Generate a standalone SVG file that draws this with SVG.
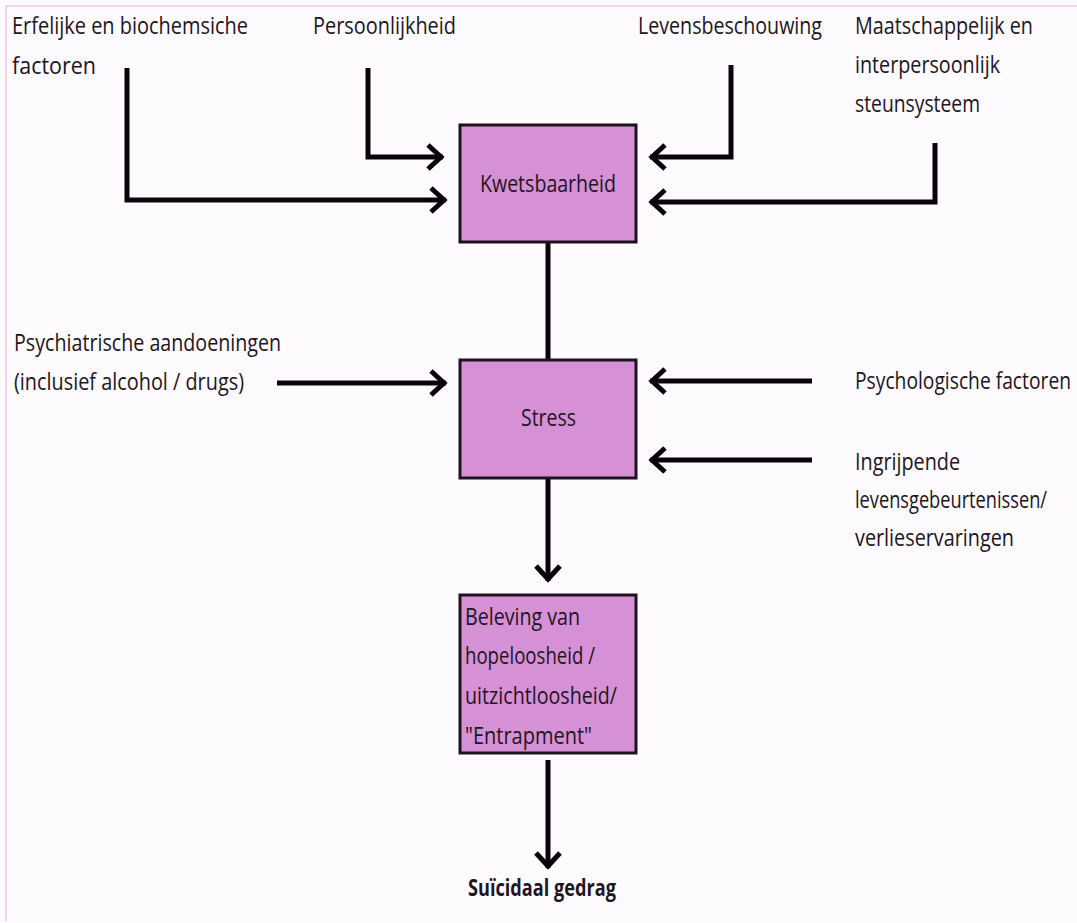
<svg xmlns="http://www.w3.org/2000/svg" width="1077" height="923" viewBox="0 0 1077 923">
<defs>
<style>
.lbl{font-family:"Open Sans","Liberation Sans",sans-serif;font-size:23px;fill:#221522;}
.bold{font-weight:bold;}
.box{fill:#d690d6;stroke:#1e121e;stroke-width:3;}
.con{fill:none;stroke:#0a050a;stroke-width:5;}
</style>
<marker id="arr" viewBox="-20 -15 25 30" refX="0" refY="0" markerWidth="25" markerHeight="30" markerUnits="userSpaceOnUse" orient="auto">
<path d="M-15,-12 L-2,0 L-15,12" fill="none" stroke="#0a050a" stroke-width="5"/>
</marker>
</defs>
<rect x="0" y="0" width="1077" height="923" fill="#fdfbfd"/>
<path d="M1077,6 H6 V921" fill="none" stroke="#ecc8ec" stroke-width="1.5"/>

<g id="connectors">
<path class="con" d="M127,68 V200 H446" marker-end="url(#arr)"/>
<path class="con" d="M368,68 V157 H443" marker-end="url(#arr)"/>
<path class="con" d="M731,65 V157 H650" marker-end="url(#arr)"/>
<path class="con" d="M935,143 V202 H650" marker-end="url(#arr)"/>
<path class="con" d="M548,242 V360"/>
<path class="con" d="M277,383 H446" marker-end="url(#arr)"/>
<path class="con" d="M812,381 H650" marker-end="url(#arr)"/>
<path class="con" d="M812,460 H650" marker-end="url(#arr)"/>
<path class="con" d="M548,479 V581" marker-end="url(#arr)"/>
<path class="con" d="M548,760 V868" marker-end="url(#arr)"/>
</g>

<g id="erfelijk">
<text class="lbl" x="12" y="34" textLength="236" lengthAdjust="spacingAndGlyphs">Erfelijke en biochemsiche</text>
<text class="lbl" x="12" y="74" textLength="84" lengthAdjust="spacingAndGlyphs">factoren</text>
</g>
<g id="persoonlijkheid">
<text class="lbl" x="313" y="34" textLength="143" lengthAdjust="spacingAndGlyphs">Persoonlijkheid</text>
</g>
<g id="levensbeschouwing">
<text class="lbl" x="638" y="34" textLength="184" lengthAdjust="spacingAndGlyphs">Levensbeschouwing</text>
</g>
<g id="maatschappelijk">
<text class="lbl" x="855" y="34" textLength="178" lengthAdjust="spacingAndGlyphs">Maatschappelijk en</text>
<text class="lbl" x="855" y="73" textLength="145" lengthAdjust="spacingAndGlyphs">interpersoonlijk</text>
<text class="lbl" x="855" y="112" textLength="125" lengthAdjust="spacingAndGlyphs">steunsysteem</text>
</g>
<g id="kwetsbaarheid">
<rect class="box" x="460" y="125" width="176" height="117"/>
<text class="lbl" x="480" y="192" textLength="136" lengthAdjust="spacingAndGlyphs">Kwetsbaarheid</text>
</g>
<g id="psychiatrisch">
<text class="lbl" x="14" y="351" textLength="267" lengthAdjust="spacingAndGlyphs">Psychiatrische aandoeningen</text>
<text class="lbl" x="14" y="390" textLength="230" lengthAdjust="spacingAndGlyphs">(inclusief alcohol / drugs)</text>
</g>
<g id="stress">
<rect class="box" x="460" y="360" width="176" height="118"/>
<text class="lbl" x="521" y="426" textLength="55" lengthAdjust="spacingAndGlyphs">Stress</text>
</g>
<g id="psychologisch">
<text class="lbl" x="855" y="389" textLength="216" lengthAdjust="spacingAndGlyphs">Psychologische factoren</text>
</g>
<g id="ingrijpend">
<text class="lbl" x="855" y="470" textLength="105" lengthAdjust="spacingAndGlyphs">Ingrijpende</text>
<text class="lbl" x="855" y="508" textLength="192" lengthAdjust="spacingAndGlyphs">levensgebeurtenissen/</text>
<text class="lbl" x="855" y="546" textLength="159" lengthAdjust="spacingAndGlyphs">verlieservaringen</text>
</g>
<g id="beleving">
<rect class="box" x="460" y="595" width="176" height="158"/>
<text class="lbl" x="465" y="625" textLength="115" lengthAdjust="spacingAndGlyphs">Beleving van</text>
<text class="lbl" x="465" y="664" textLength="130" lengthAdjust="spacingAndGlyphs">hopeloosheid /</text>
<text class="lbl" x="465" y="704" textLength="152" lengthAdjust="spacingAndGlyphs">uitzichtloosheid/</text>
<text class="lbl" x="465" y="744" textLength="127" lengthAdjust="spacingAndGlyphs">"Entrapment"</text>
</g>
<g id="suicidaal">
<text class="lbl bold" x="468" y="896" textLength="148" lengthAdjust="spacingAndGlyphs">Suïcidaal gedrag</text>
</g>
</svg>
